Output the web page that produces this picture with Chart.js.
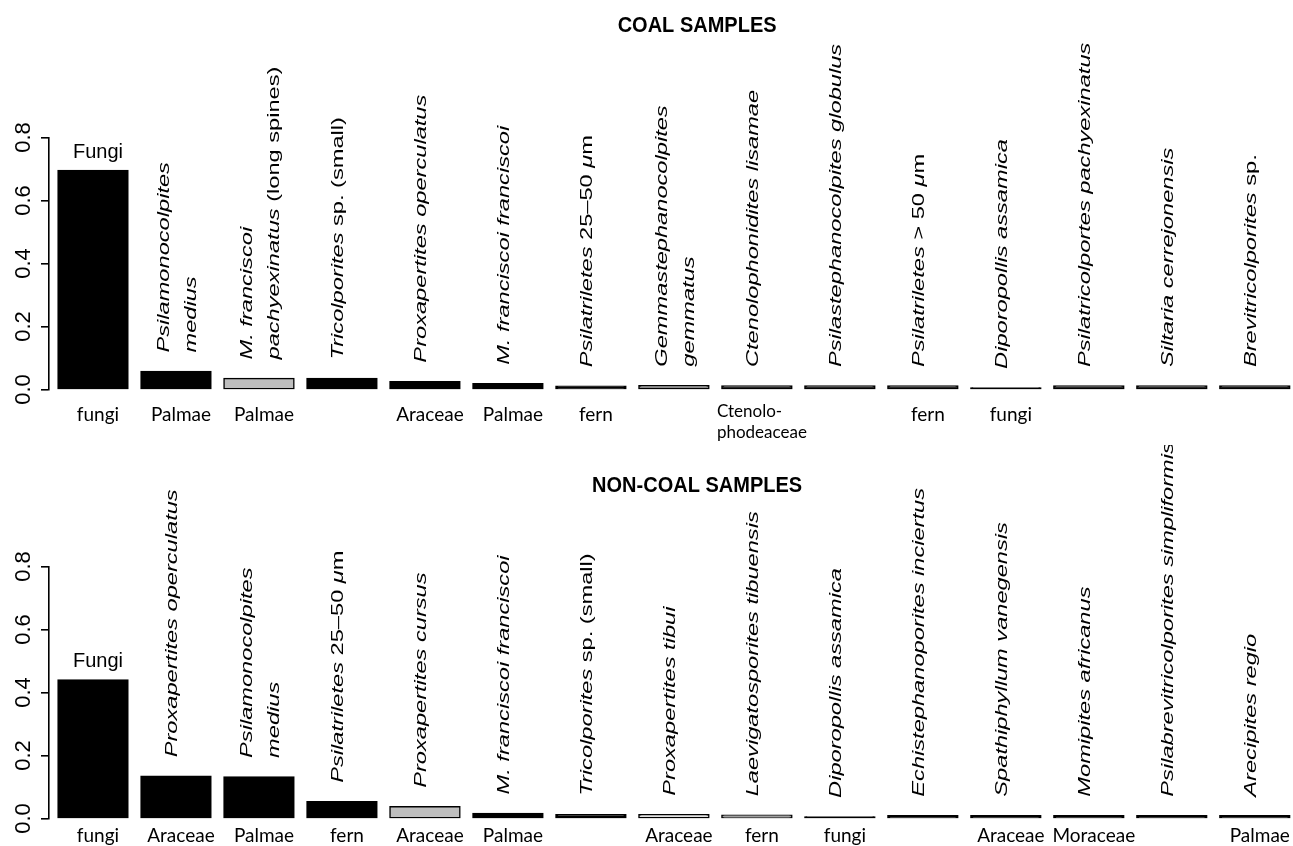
<!DOCTYPE html>
<html>
<head>
<meta charset="utf-8">
<script src="https://cdn.jsdelivr.net/npm/chart.js@4.4.1/dist/chart.umd.min.js"></script>
<style>
  html, body { margin: 0; padding: 0; background: #fff; overflow: hidden; }
  #wrap { position: relative; width: 1293px; height: 846px; }
  canvas { position: absolute; left: 0; }
  #coal { top: 0; }
  #noncoal { top: 445px; }
</style>
</head>
<body>
<div id="wrap">
  <canvas id="coal" width="1293" height="445"></canvas>
  <canvas id="noncoal" width="1293" height="401"></canvas>
</div>
<script>
// Relative abundance of the fifteen most common palynomorphs.
// Taxon names: text between asterisks is set in italics, "\n" breaks a line.

const coalTaxa = [
  "Fungi",
  "*Psilamonocolpites*\n*medius*",
  "*M. franciscoi*\n*pachyexinatus* (long spines)",
  "*Tricolporites* sp. (small)",
  "*Proxapertites operculatus*",
  "*M. franciscoi franciscoi*",
  "*Psilatriletes* 25–50 *μ*m",
  "*Gemmastephanocolpites*\n*gemmatus*",
  "*Ctenolophonidites lisamae*",
  "*Psilastephanocolpites globulus*",
  "*Psilatriletes* > 50 *μ*m",
  "*Diporopollis assamica*",
  "*Psilatricolportes pachyexinatus*",
  "*Siltaria cerrejonensis*",
  "*Brevitricolporites* sp."
];
const coalFamilies = [
  "fungi", "Palmae", "Palmae", "", "Araceae", "Palmae", "fern", "",
  "Ctenolo-\nphodeaceae", "", "fern", "fungi", "", "", ""
];
const coalValues = [
  0.695, 0.057, 0.035, 0.035, 0.025, 0.018, 0.010, 0.012,
  0.011, 0.011, 0.011, 0.005, 0.011, 0.011, 0.011
];

const nonCoalTaxa = [
  "Fungi",
  "*Proxapertites operculatus*",
  "*Psilamonocolpites*\n*medius*",
  "*Psilatriletes* 25–50 *μ*m",
  "*Proxapertites cursus*",
  "*M. franciscoi franciscoi*",
  "*Tricolporites* sp. (small)",
  "*Proxapertites tibui*",
  "*Laevigatosporites tibuensis*",
  "*Diporopollis assamica*",
  "*Echistephanoporites inciertus*",
  "*Spathiphyllum vanegensis*",
  "*Momipites africanus*",
  "*Psilabrevitricolporites simpliformis*",
  "*Arecipites regio*"
];
const nonCoalFamilies = [
  "fungi", "Araceae", "Palmae", "fern", "Araceae", "Palmae", "", "Araceae",
  "fern", "fungi", "", "Araceae", "Moraceae", "", "Palmae"
];
const nonCoalValues = [
  0.440, 0.134, 0.132, 0.053, 0.037, 0.016, 0.012, 0.012,
  0.010, 0.005, 0.009, 0.009, 0.009, 0.009, 0.009
];

const yTicks = [0, 0.2, 0.4, 0.6, 0.8];
const yTickLabels = ["0.0", "0.2", "0.4", "0.6", "0.8"];

// bar fills (black by default, grey for a few taxa)
const coalFills = [
  "#000", "#000", "#bebebe", "#000", "#000", "#000", "#000", "#8c8c8c",
  "#2a2a2a", "#2a2a2a", "#2a2a2a", "#000", "#2a2a2a", "#2a2a2a", "#1a1a1a"
];
const nonCoalFills = [
  "#000", "#000", "#000", "#000", "#bebebe", "#000", "#000", "#e2e2e2",
  "#a0a0a0", "#000", "#000", "#000", "#000", "#000", "#000"
];

const SANS = '"Liberation Sans", Arial, sans-serif';
const FAMILY_FONT = 'Lato, "Open Sans", sans-serif';

// draw one line of mixed italic / upright text starting at the origin
function drawRich(ctx, text, size) {
  const parts = text.split("*");
  let x = 0;
  parts.forEach((p, k) => {
    if (!p) return;
    ctx.font = (k % 2 ? "italic " : "") + size + "px " + SANS;
    ctx.fillText(p, x, 0);
    x += ctx.measureText(p).width;
  });
}

const taxonLabels = {
  id: "taxonLabels",
  afterDatasetsDraw(chart, args, opts) {
    const { ctx, chartArea, scales: { x, y } } = chart;
    const data = chart.data.datasets[0].data;
    ctx.save();
    ctx.fillStyle = "#000";

    // panel title
    ctx.font = "bold 20px " + SANS;
    ctx.textAlign = "center";
    ctx.textBaseline = "alphabetic";
    ctx.save();
    ctx.translate(chartArea.left + chartArea.width * 0.521, opts.titleY);
    ctx.scale(1, 1.1);
    ctx.fillText(opts.title, 0, 0);
    ctx.restore();

    const base = y.getPixelForValue(0);

    opts.taxa.forEach((t, i) => {
      const cx = x.getPixelForValue(i);
      const top = y.getPixelForValue(data[i].y);
      if (!t.includes("*")) {
        ctx.font = "20px " + SANS;
        ctx.textAlign = "center";
        ctx.textBaseline = "alphabetic";
        ctx.fillText(t, cx + 5, top - 13);
        return;
      }
      const lines = t.split("\n");
      const shift = lines.length > 1 ? 2 : -4;
      ctx.save();
      ctx.translate(cx + shift, top - 19);
      ctx.rotate(-Math.PI / 2);
      ctx.scale(1.39, 1);
      ctx.textAlign = "left";
      ctx.textBaseline = "middle";
      lines.forEach((ln, j) => {
        ctx.save();
        ctx.translate(0, (j - (lines.length - 1) / 2) * 27);
        drawRich(ctx, ln, 17);
        ctx.restore();
      });
      ctx.restore();
    });

    // plant family under each bar
    ctx.textBaseline = "alphabetic";
    opts.families.forEach((f, i) => {
      if (!f) return;
      const cx = x.getPixelForValue(i) + 5;
      const lines = f.split("\n");
      if (lines.length === 1) {
        ctx.font = "19px " + FAMILY_FONT;
        ctx.textAlign = "center";
        ctx.fillText(f, cx, base + opts.familyGap);
      } else {
        ctx.font = "17px " + FAMILY_FONT;
        ctx.textAlign = "left";
        const w = Math.max(...lines.map(l => ctx.measureText(l).width));
        lines.forEach((l, j) => {
          ctx.fillText(l, cx - w / 2, base + opts.familyGap - 4 + j * 21);
        });
      }
    });
    ctx.restore();
  }
};

function makeChart(id, values, fills, taxa, families, title, pad, titleY, familyGap) {
  return new Chart(document.getElementById(id), {
    type: "bar",
    data: {
      datasets: [{
        data: values.map((v, i) => ({ x: i, y: v })),
        backgroundColor: fills,
        borderColor: "#000",
        borderWidth: 1.5,
        borderSkipped: false,
        inflateAmount: 0.75,
        barPercentage: 0.843,
        categoryPercentage: 1
      }]
    },
    options: {
      responsive: false,
      animation: false,
      devicePixelRatio: 1,
      layout: { padding: { top: pad.top, bottom: pad.bottom, left: 0, right: 0 } },
      plugins: {
        legend: { display: false },
        tooltip: { enabled: false },
        taxonLabels: { taxa, families, title, titleY, familyGap }
      },
      scales: {
        x: { type: "linear", min: -0.53, max: 14.46, offset: false, display: false },
        y: {
          min: 0,
          max: 0.8,
          afterFit(s) { s.width = 49; },
          afterBuildTicks(s) { s.ticks = yTicks.map(v => ({ value: v })); },
          grid: { drawOnChartArea: false, drawTicks: true, tickLength: 8, color: "#000", lineWidth: 1.6 },
          border: { display: true, color: "#000", width: 1.6 },
          ticks: {
            minRotation: 90,
            maxRotation: 90,
            crossAlign: "center",
            padding: 1.5,
            autoSkip: false,
            color: "#000",
            font: { family: "Liberation Sans", size: 22 },
            callback: (v, i) => yTickLabels[i]
          }
        }
      }
    },
    plugins: [taxonLabels]
  });
}

makeChart("coal", coalValues, coalFills, coalTaxa, coalFamilies, "COAL SAMPLES",
  { top: 137.5, bottom: 55.5 }, 32, 31.5);
makeChart("noncoal", nonCoalValues, nonCoalFills, nonCoalTaxa, nonCoalFamilies, "NON-COAL SAMPLES",
  { top: 121.5, bottom: 27.5 }, 46.7, 23);
</script>
</body>
</html>
